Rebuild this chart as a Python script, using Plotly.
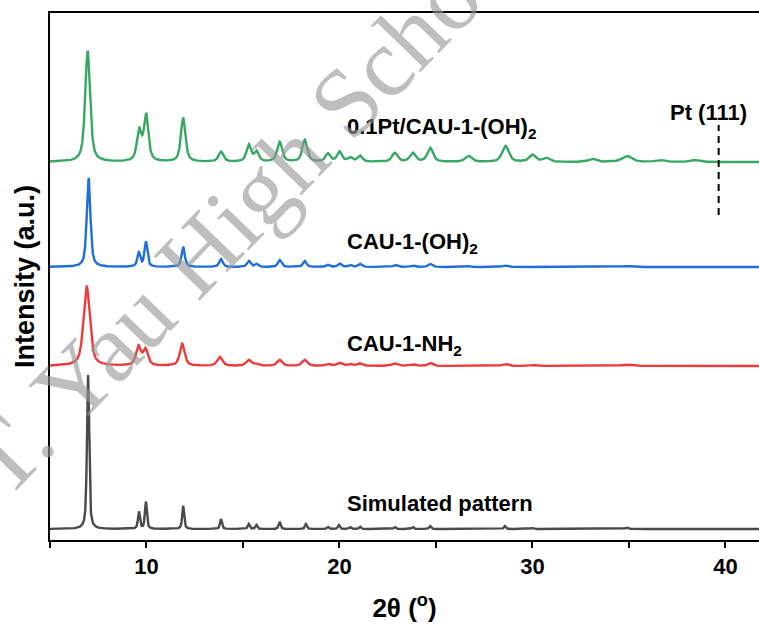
import numpy as np
import plotly.graph_objects as go

# 2-theta scan grid (degrees)
two_theta = np.arange(5.0, 41.8, 0.01)

# Peak lists: position (deg), height (a.u.), FWHM (deg)
sim_pos = [6.97, 9.61, 9.97, 11.90, 13.86, 15.30, 15.70, 16.90, 18.26, 19.40, 19.97, 20.55, 21.06, 22.87, 23.80, 24.70, 28.57, 30.00, 34.90]
sim_hgt = [154, 17, 27, 23, 10, 5, 4, 7, 5, 2, 4, 2, 2.5, 2, 2, 3, 3, 1, 1.5]
sim_fwhm = [0.13, 0.12, 0.12, 0.12, 0.12, 0.12, 0.12, 0.12, 0.12, 0.12, 0.12, 0.12, 0.12, 0.12, 0.12, 0.12, 0.12, 0.12, 0.15]

nh2_pos = [6.90, 9.58, 9.95, 11.85, 13.80, 15.30, 15.70, 16.90, 18.20, 19.40, 20.00, 20.55, 21.06, 22.85, 23.80, 24.70, 28.60, 30.00, 33.00, 34.90]
nh2_hgt = [80, 19, 16, 22, 9, 6, 2, 6, 6, 2, 3, 2, 2.5, 2.5, 1.5, 3, 2, 1, 0.7, 1.5]
nh2_fwhm = [0.38, 0.30, 0.30, 0.30, 0.32, 0.32, 0.30, 0.32, 0.32, 0.30, 0.30, 0.30, 0.30, 0.35, 0.30, 0.30, 0.35, 0.35, 0.35, 0.6]

oh_pos = [7.00, 9.60, 9.97, 11.90, 13.86, 15.30, 15.70, 16.90, 18.20, 19.40, 20.00, 20.55, 21.06, 22.90, 23.80, 24.70, 26.70, 28.60, 30.30, 34.90]
oh_hgt = [89, 14, 25, 20, 8, 6, 3, 7, 6, 2, 3.5, 2, 3, 2, 1.5, 3, 0.8, 1.5, 0.7, 1.0]
oh_fwhm = [0.22, 0.18, 0.18, 0.20, 0.22, 0.22, 0.20, 0.22, 0.22, 0.22, 0.22, 0.22, 0.22, 0.25, 0.25, 0.25, 0.3, 0.3, 0.3, 0.6]

pt_pos = [6.95, 9.62, 9.98, 11.90, 13.86, 15.30, 15.70, 16.90, 18.20, 19.40, 20.00, 20.55, 21.06, 22.87, 23.80, 24.70, 26.70, 28.60, 30.00, 30.70, 33.10, 34.90, 36.60, 38.40]
pt_hgt = [111, 30, 46, 44, 10, 17, 10, 20, 22, 8, 10, 4, 6, 9, 9, 14, 6, 16, 7, 4, 3, 6, 2, 2]
pt_fwhm = [0.30, 0.28, 0.28, 0.28, 0.30, 0.28, 0.28, 0.30, 0.30, 0.30, 0.30, 0.30, 0.30, 0.35, 0.35, 0.35, 0.4, 0.4, 0.4, 0.4, 0.4, 0.6, 0.5, 0.5]

# Vertical offsets of the stacked patterns (a.u.)
offsets = {"sim": 11, "nh2": 174, "oh": 273, "pt": 378}

labels = ["Simulated pattern", "CAU-1-NH<sub>2</sub>", "CAU-1-(OH)<sub>2</sub>", "0.1Pt/CAU-1-(OH)<sub>2</sub>"]
label_y = [37, 195, 297, 412]
label_x = 20.3
colors = ["#4a4a4a", "#ee3a3a", "#1f6fdb", "#37a862"]

pt111_pos = 39.65
pt111_span = [325, 415]

tick_vals = [5, 10, 15, 20, 25, 30, 35, 40]
tick_text = ["", "10", "", "20", "", "30", "", "40"]


def pattern(pos, hgt, fwhm, eta=0.65):
    y = np.zeros_like(two_theta)
    for p, h, w in zip(pos, hgt, fwhm):
        d = (two_theta - p) / (w / 2)
        lor = 1.0 / (1.0 + d ** 2)
        gau = np.exp(-np.log(2) * d ** 2)
        y += h * (eta * lor + (1 - eta) * gau)
    return y


curves = [
    pattern(sim_pos, sim_hgt, sim_fwhm) + offsets["sim"],
    pattern(nh2_pos, nh2_hgt, nh2_fwhm) + offsets["nh2"],
    pattern(oh_pos, oh_hgt, oh_fwhm) + offsets["oh"],
    pattern(pt_pos, pt_hgt, pt_fwhm) + offsets["pt"],
]

fig = go.Figure()
for y, c in zip(curves, colors):
    fig.add_trace(go.Scatter(x=two_theta, y=y, mode="lines",
                             line=dict(color=c, width=2.4), showlegend=False,
                             hoverinfo="skip"))

# Pt (111) reference position
fig.add_trace(go.Scatter(x=[pt111_pos, pt111_pos], y=pt111_span, mode="lines",
                         line=dict(color="black", width=2, dash="7px,5px"),
                         showlegend=False, hoverinfo="skip"))

font_family = "Liberation Sans, Arial, sans-serif"
for text, yv in zip(labels, label_y):
    fig.add_annotation(x=label_x, y=yv, xref="x", yref="y", text="<b>" + text + "</b>",
                       showarrow=False, xanchor="left", yanchor="middle",
                       font=dict(family=font_family, size=22, color="black"))

fig.add_annotation(x=39.1, y=428, xref="x", yref="y", text="<b>Pt (111)</b>",
                   showarrow=False, xanchor="center", yanchor="middle",
                   font=dict(family=font_family, size=22, color="black"))

# Background watermark
fig.add_annotation(x=0.243, y=0.588, xref="paper", yref="paper",
                   text="S.T. Yau High School", showarrow=False,
                   textangle=-46, xanchor="center", yanchor="middle",
                   font=dict(family="Liberation Serif, Times New Roman, serif", size=98,
                             color="rgba(150,150,150,0.62)"))

fig.update_layout(
    width=759, height=626,
    margin=dict(l=50, r=0, t=13, b=86),
    paper_bgcolor="white", plot_bgcolor="white",
    xaxis=dict(range=[5, 41.74], tickvals=tick_vals,
               ticktext=["<b>" + t + "</b>" if t else "" for t in tick_text],
               ticks="outside", ticklen=6, tickwidth=2, tickcolor="black",
               showline=True, linewidth=2, linecolor="black", mirror=True,
               showgrid=False, zeroline=False,
               tickfont=dict(family=font_family, size=22, color="black", weight="bold"),
               title=dict(text="<b>2θ (<sup>o</sup>)</b>", standoff=20,
                          font=dict(family=font_family, size=26, color="black"))),
    yaxis=dict(range=[0, 527], showticklabels=False, ticks="",
               showline=True, linewidth=2, linecolor="black",
               showgrid=False, zeroline=False,
               title=dict(text="<b>Intensity (a.u.)</b>", standoff=6,
                          font=dict(family=font_family, size=27, color="black"))),
)

fig.write_html("out.html")
